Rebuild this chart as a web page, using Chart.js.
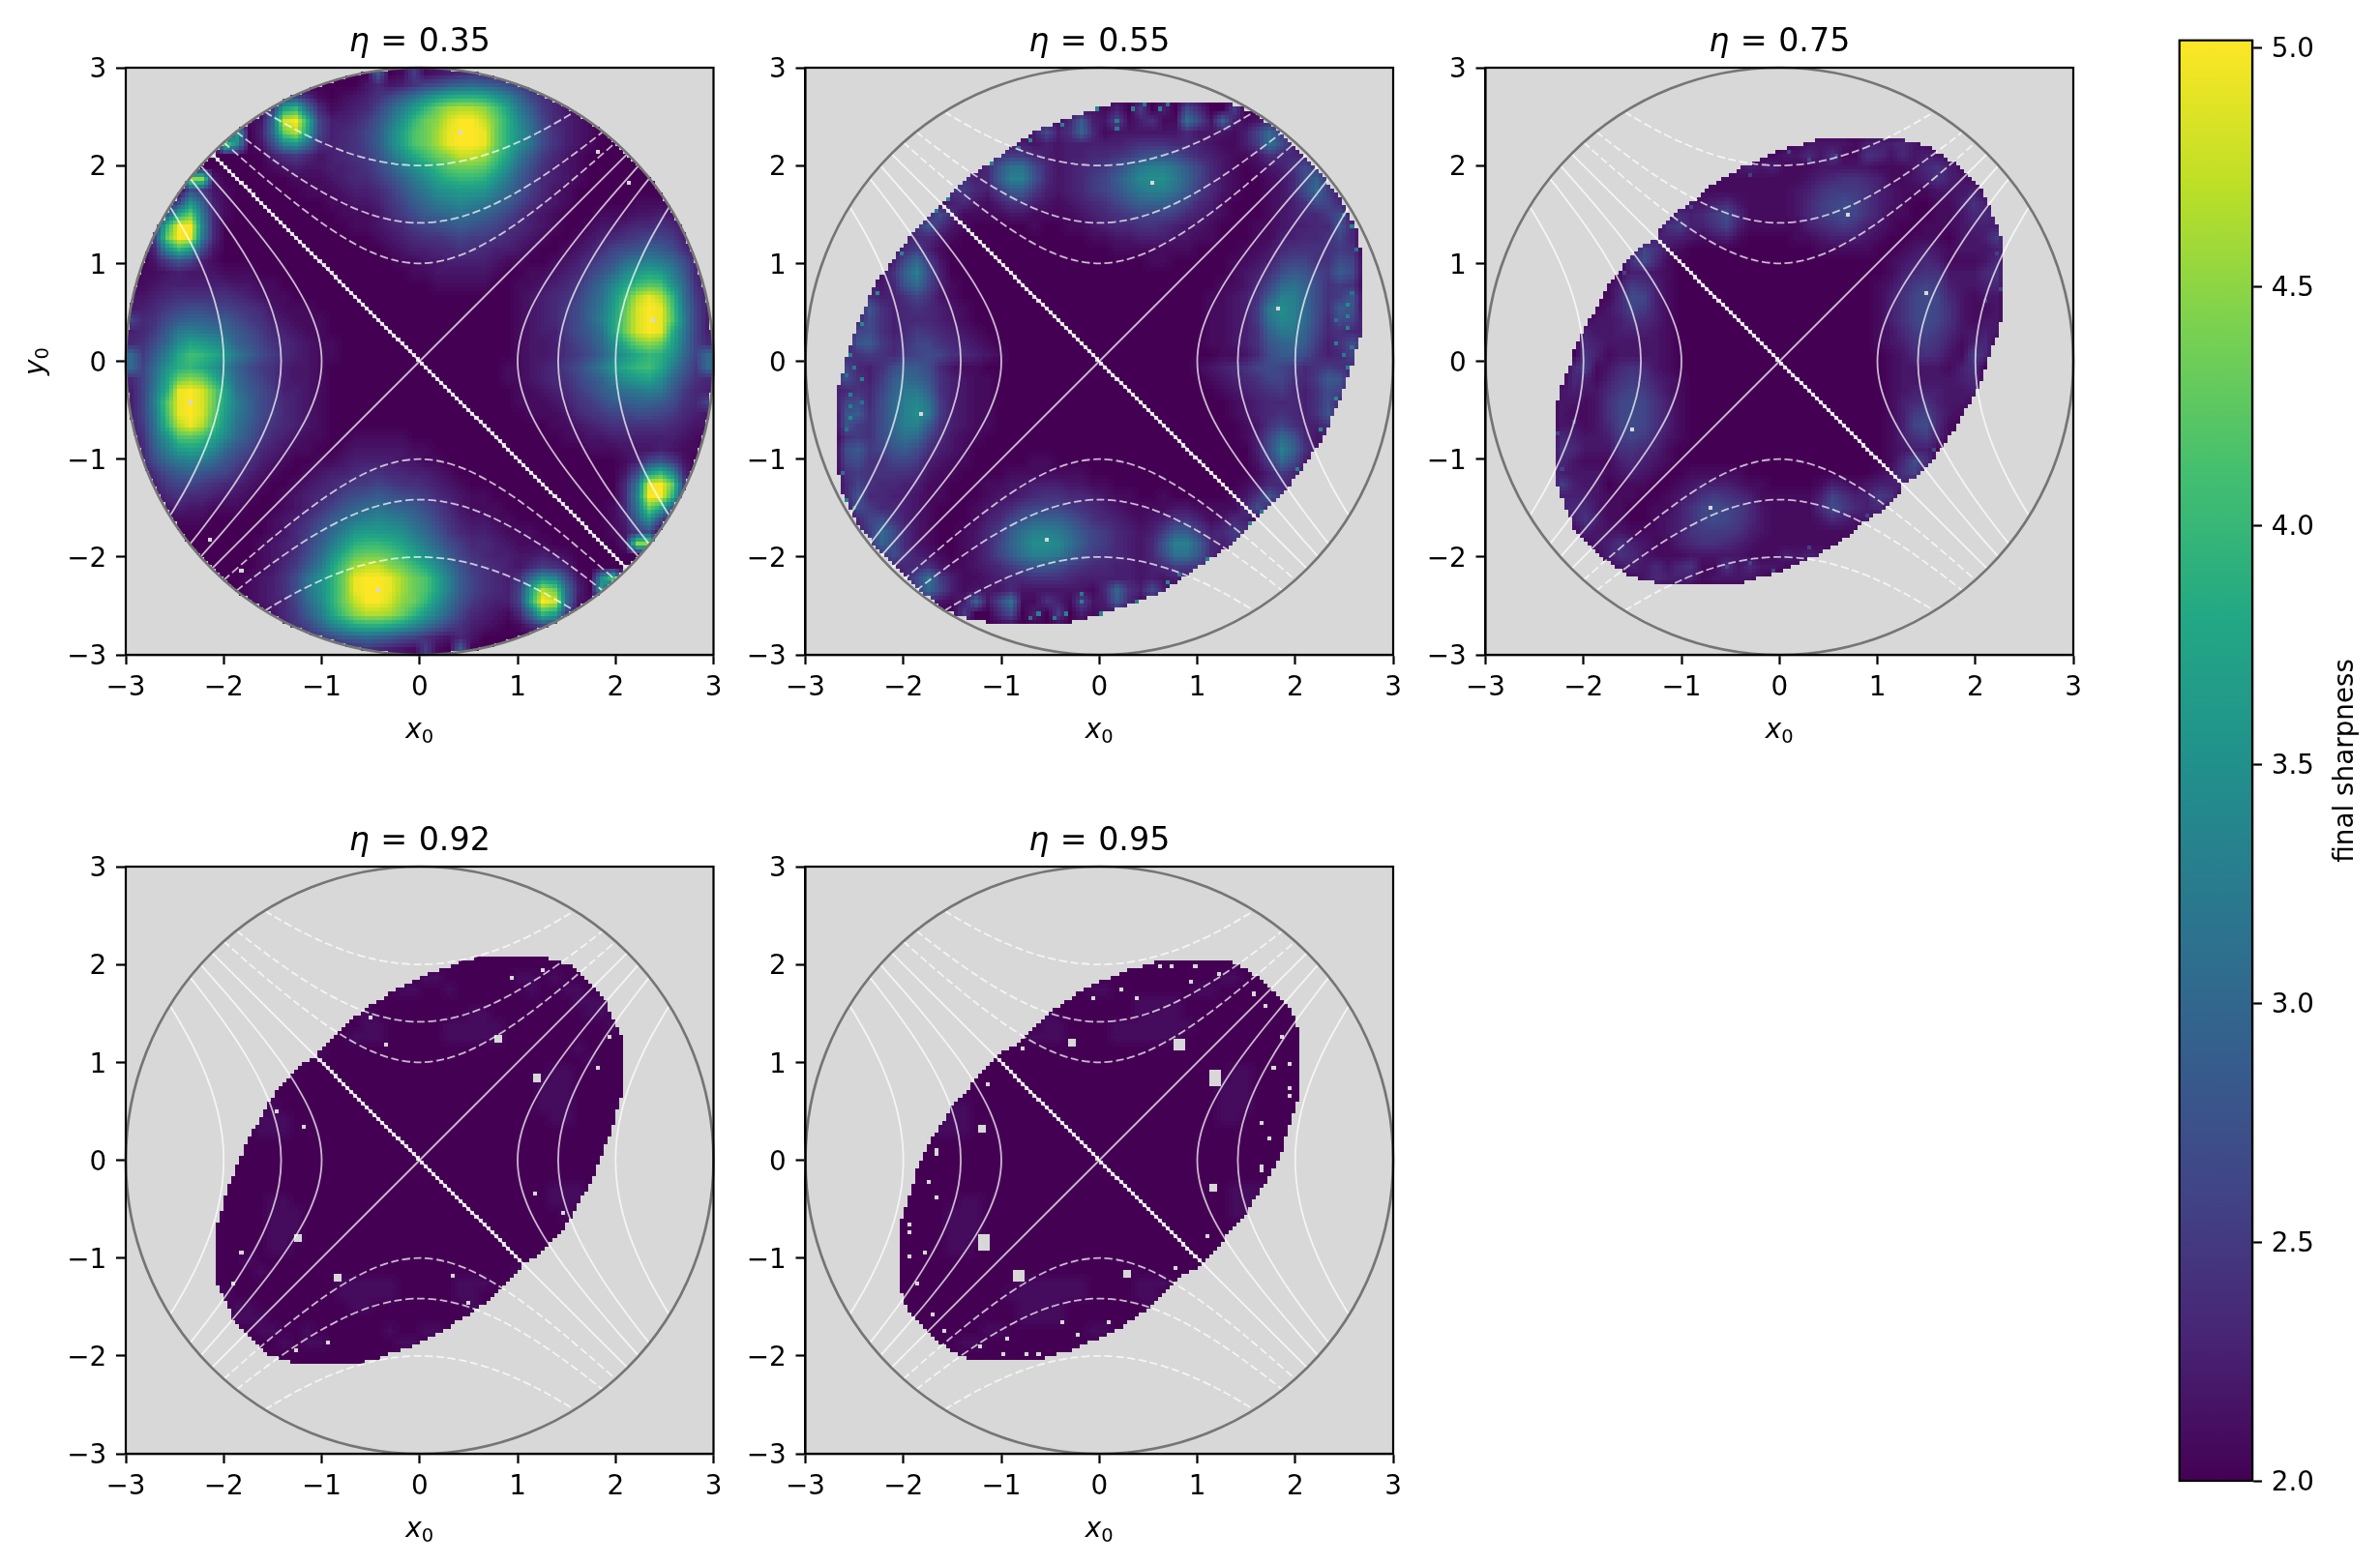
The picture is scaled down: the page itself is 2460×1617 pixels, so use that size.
<!DOCTYPE html>
<html>
<head>
<meta charset="utf-8">
<style>
  html, body { margin: 0; padding: 0; background: #ffffff; }
  body { position: relative; width: 2460px; height: 1617px; overflow: hidden; }
  canvas { position: absolute; }
</style>
<script src="https://cdn.jsdelivr.net/npm/chart.js@4"></script>
</head>
<body>
<script>
// Final sharpness over initial conditions (x0, y0) for five step sizes.
const ETAS = ['0.35', '0.55', '0.75', '0.92', '0.95'];
const AXIS_TICKS = [-3, -2, -1, 0, 1, 2, 3];
const COLORBAR_TICKS = [2, 2.5, 3, 3.5, 4, 4.5, 5];
const COLORBAR_MIN = 2;
const COLORBAR_MAX = 5.015;

// Sharpness rows for y0 > 0, top row first, one character per 0.12-wide cell.
// 0..9a..z stands for 2.0..5.0. The maps are point-symmetric about the origin,
// so the rows for y0 < 0 are the same rows read backwards.
const ROWS_035 = [
  "0000000000 0000000000 0a01612345 4321000000 0000000000",
  "0000000000 0000000000 2423578abc ba86432100 0000000000",
  "0000000000 0036741012 357adgjlmm lifb753210 0000000000",
  "0000000000 016knc4123 47bfjnruvv tpkea64210 0000000000",
  "0000000000 12cxzm7334 69dinrtxzz wrmgc74321 0000000000",
  "000000000j 03crvk7345 7afkpruyzz yrmhd85321 0000000000",
  "00000000ph 028gic5345 7afkpruyzz yrmhd85321 0000000000",
  "0000000000 0035642345 69dhlortww upkea64210 0000000000",
  "0000000000 0012322334 57aehknqrr qmhc853210 0000000000",
  "00000tt200 0000111234 468behkmnn miea743210 0000000000",
  "0000086210 0000011123 3469cehijj ifc9642100 0000000000",
  "00008ib310 0000000112 2357acefgf eca7532100 0001111000",
  "000alre410 0000000011 12468abcdc b975321000 1112232100",
  "006nzzg400 0000000001 12346789a9 8754321001 2234454210",
  "007rzye400 0000000000 0123455676 6543210012 3456776310",
  "004gnj8200 0000000000 0012334455 4332100123 5789ba8520",
  "0026973100 0000000000 0001122333 3211001235 79cefec841",
  "0112322211 1000000000 0000112222 2100112347 9cgjkjfa41",
  "1123333332 2110000000 0000001111 1001123469 cgkoqpic52",
  "2234555554 3211000000 0000000000 000123457a diovyvnd63",
  "2346788776 5421110000 0000000000 000123468b ejqxzype73",
  "7458abbaa8 6532111000 0000000000 000123468b fkrxzyqf73",
  "346aefedca 8643211000 0000000000 000123368a dkrxzyme73",
  "458chkjhfb 9754321100 0000000000 0001223579 chmrtrkd74",
  "c6aflonlie b864321100 0000000000 0001223568 bfilnmic7c"
];
const ROWS_055 = [
  "0000000000 0000000000 0000000000 0000000000 0000000000",
  "0000000000 0000000000 0000000000 0000000000 0000000000",
  "0000000000 0000000000 0000000000 0000000000 0000000000",
  "0000000000 0000000000 0000213060 3084006000 0000000000",
  "0000000000 0000000001 214a327135 11d72b3124 1000000000",
  "0000000000 0000000013 835b412222 224222137c 6300000000",
  "0000000000 0000001232 3233333455 544321136d 8300000000",
  "0000000000 0001235664 3233445689 9864321125 4430000000",
  "0000000000 0001249dd8 4234568bef fda7421012 3585200000",
  "0000000000 003534aff9 423467adgh heb7421001 248b510000",
  "0000000000 0056436aa6 3234679cef fda6421001 248c620000",
  "0000000000 0134213553 21234579bb b974310001 2358741000",
  "0000000000 4841111221 1112345677 7643210001 2344682000",
  "0000000005 9521000001 0011234455 4322100011 2334494000",
  "0000000034 4210000000 0000112233 3221100011 3344574000",
  "0000000246 3100000000 0000001111 1110000112 4555565000",
  "000000038c 6200000000 0000000001 1000001123 6775587000",
  "00000025bf 8300000000 0000000000 0000001235 8a976a8000",
  "000003249c 7310000000 0000000000 0000011247 cdb8565000",
  "0000053357 5210000000 0000000000 000011235a ffc8569000",
  "0000295345 4321000000 0000000000 000011236e hfc85a9000",
  "0000485344 4321000000 0000000000 000011236d gfc8487200",
  "0002785346 5432100000 0000000000 000011235b eeb7454300",
  "00039a6457 7543210000 0000000000 0000112359 bca6358500",
  "0004565467 8754321000 0000000000 0000011248 aa85347400"
];
const ROWS_075 = [
  "0000000000 0000000000 0000000000 0000000000 0000000000",
  "0000000000 0000000000 0000000000 0000000000 0000000000",
  "0000000000 0000000000 0000000000 0000000000 0000000000",
  "0000000000 0000000000 0000000000 0000000000 0000000000",
  "0000000000 0000000000 0000000000 0000000000 0000000000",
  "0000000000 0000000000 0000000000 0000000000 0000000000",
  "0000000000 0000000000 0000001222 2133342100 0000000000",
  "0000000000 0000000000 0001122425 1154242321 0000000000",
  "0000000000 0000000000 1232311122 2221112453 1000000000",
  "0000000000 0000000011 1111111234 5543112353 2100000000",
  "0000000000 0000000111 1111112356 6653211122 2310000000",
  "0000000000 0000001223 4211112467 8753210011 3531000000",
  "0000000000 0000014346 8411112467 8753110011 2443100000",
  "0000000000 0000056335 7311111345 6532100111 2333410000",
  "0000000000 0001333212 3100001123 3321001110 2236000000",
  "0000000000 0027521000 0000000011 1110012321 2223400000",
  "0000000000 0058410000 0000000000 0000123431 1124000000",
  "0000000000 0133210000 0000000000 0000134552 2245000000",
  "0000000000 1365310000 0000000000 0001246763 2234000000",
  "0000000000 1487310000 0000000000 0001357874 2122000000",
  "0000000001 2476310000 0000000000 0001357875 2112000000",
  "0000000012 2354310000 0000000000 0001357875 2122000000",
  "0000000032 2333210000 0000000000 0001246764 2232000000",
  "0000000043 2222210000 0000000000 0001235653 1340000000",
  "0000000053 1222210000 0000000000 0000124542 1640000000"
];
const ROWS_092 = [
  "0000000000 0000000000 0000000000 0000000000 0000000000",
  "0000000000 0000000000 0000000000 0000000000 0000000000",
  "0000000000 0000000000 0000000000 0000000000 0000000000",
  "0000000000 0000000000 0000000000 0000000000 0000000000",
  "0000000000 0000000000 0000000000 0000000000 0000000000",
  "0000000000 0000000000 0000000000 0000000000 0000000000",
  "0000000000 0000000000 0000000000 0000000000 0000000000",
  "0000000000 0000000000 0000000000 0000000000 0000000000",
  "0000000000 0000000000 0000000000 0000000000 0000000000",
  "0000000000 0000000000 0000011000 0001101000 0000000000",
  "0000000000 0000000000 0001100100 0000100110 0000000000",
  "0000000000 0000000000 0000000000 0000000011 1000000000",
  "0000000000 0000000000 1000000001 1000000001 1000000000",
  "0000000000 0000000000 1100000111 1100000000 0100000000",
  "0000000000 0000000001 1100000111 1100000000 0000000000",
  "0000000000 0000001000 0000000000 0000000010 0000000000",
  "0000000000 0000100000 0000000000 0000000001 0000100000",
  "0000000000 0010000000 0000000000 0000001100 0000100000",
  "0000000000 0000000000 0000000000 0000011100 0000000000",
  "0000000000 0000000000 0000000000 0000011100 0001000000",
  "0000000000 0010000000 0000000000 0000011100 0010000000",
  "0000000000 0111000000 0000000000 0000001100 0000000000",
  "0000000000 0111000000 0000000000 0000000000 0000100000",
  "0000000000 0000000000 0000000000 0000000000 0010000000",
  "0000000000 0000000000 0000000000 0000000000 0010000000"
];
const ROWS_095 = [
  "0000000000 0000000000 0000000000 0000000000 0000000000",
  "0000000000 0000000000 0000000000 0000000000 0000000000",
  "0000000000 0000000000 0000000000 0000000000 0000000000",
  "0000000000 0000000000 0000000000 0000000000 0000000000",
  "0000000000 0000000000 0000000000 0000000000 0000000000",
  "0000000000 0000000000 0000000000 0000000000 0000000000",
  "0000000000 0000000000 0000000000 0000000000 0000000000",
  "0000000000 0000000000 0000000000 0000000000 0000000000",
  "0000000000 0000000000 0000000000 0000000000 0000000000",
  "0000000000 0000000000 0000000000 0000011000 0000000000",
  "0000000000 0000000000 0000110000 0001100000 0000000000",
  "0000000000 0000000000 0000000011 1100000000 0000000000",
  "0000000000 0000000000 1000000011 1100000000 0000000000",
  "0000000000 0000000000 1100001111 1110000000 0000000000",
  "0000000000 0000000001 1100001111 1100000000 0000000000",
  "0000000000 0000000000 0000000000 0000000000 0000000000",
  "0000000000 0000100000 0000000000 0000000000 0000000000",
  "0000000000 0010000000 0000000000 0000001100 0000000000",
  "0000000000 0000000000 0000000000 0000011100 0000000000",
  "0000000000 0010000000 0000000000 0000011100 0000000000",
  "0000000000 0111000000 0000000000 0000011100 0000000000",
  "0000000000 0111000000 0000000000 0000011000 0000000000",
  "0000000000 0111000000 0000000000 0000000000 0000000000",
  "0000000000 0000000000 0000000000 0000000000 0000000000",
  "0000000000 0000000000 0000000000 0000000000 0000000000"
];

// Upper edge of the region that converged, left to right, in (x0, y0).
// The lower edge is the same outline turned by 180 degrees.
const EDGE_055 = [[-2.59,0],[-2.49,.31],[-2.29,.79],[-2.12,1.02],[-1.9,1.32],[-1.64,1.56],[-1.34,1.88],[-1.1,2.04],[-.79,2.27],[-.55,2.4],[-.31,2.49],[-.03,2.59],[.29,2.66],[1.16,2.66],[1.36,2.62],[1.6,2.54],[1.95,2.24],[2.19,2.01],[2.51,1.6],[2.63,1.33],[2.66,1.15],[2.66,.26],[2.63,.16],[2.59,0]];
const EDGE_075 = [[-2.13,0],[-2.1,.1],[-2.03,.28],[-1.89,.51],[-1.77,.74],[-1.65,.9],[-1.47,1.12],[-1.27,1.27],[-1.13,1.47],[-.89,1.63],[-.73,1.76],[-.54,1.89],[-.38,1.98],[-.1,2.11],[.1,2.19],[.28,2.23],[.44,2.28],[1.21,2.28],[1.51,2.2],[1.69,2.09],[1.93,1.91],[2.1,1.7],[2.2,1.45],[2.28,1.22],[2.28,.46],[2.23,.28],[2.13,0]];
const EDGE_092 = [[-1.84,0],[-1.73,.26],[-1.63,.42],[-1.49,.67],[-1.29,.88],[-1.04,1.11],[-.76,1.39],[-.52,1.57],[-.28,1.72],[.08,1.9],[.47,2.04],[.65,2.08],[1.27,2.08],[1.52,2],[1.68,1.87],[1.9,1.64],[1.99,1.41],[2.08,1.25],[2.08,.72],[1.98,.36],[1.84,0]];
const EDGE_095 = [[-1.83,0],[-1.78,.09],[-1.64,.32],[-1.5,.55],[-1.3,.78],[-1.06,1.05],[-.79,1.22],[-.71,1.33],[-.43,1.57],[-.19,1.73],[.29,1.94],[.62,2.04],[1.3,2.04],[1.52,1.94],[1.75,1.76],[1.97,1.52],[2.03,1.31],[2.03,.62],[1.97,.45],[1.83,0]];

// Cells with no value, as [x0, y0] or [x0, y0, cellsWide, cellsTall]; each also has its 180-degree twin.
const HOLES_035 = [[.43,2.35],[1.8,2.13],[2.14,1.8],[2.36,.43]];
const HOLES_055 = [[.55,1.83],[1.83,.55]];
const HOLES_075 = [[.68,1.5],[1.49,.68]];
const HOLES_092 = [[-.51,1.47],[-.33,1.2],[.8,1.23,2,2],[1.22,.8,2,2],[.94,1.84],[1.25,1.93],[1.92,1.25],[1.83,.95],[-1.45,.52],[-1.19,.35]];
const HOLES_095 = [[-.28,1.19,2,2],[.82,1.2,3,3],[1.19,.84,3,4],[-1.18,.29,2,2],[-1.12,.78],[-1.67,.09],[-.77,1.12],[-.08,1.67],[.21,1.76],[.38,1.67],[.63,1.97],[.72,1.97],[.98,1.97],[.93,1.8],[1.24,1.89],[1.58,1.72],[1.7,1.59],[1.87,1.25],[1.96,.99],[1.79,.95],[1.96,.73],[1.96,.65],[1.66,.39],[1.75,.22],[1.66,-.07]];

// Single bright cells along the rim, as [x0, y0, sharpness]; each also has its 180-degree twin.
const RIM_035 = [];
const RIM_055 = [[-.01,2.57,3.4],[.17,2.47,3.3],[.17,2.39,3.2],[.33,2.57,3.3],[.46,2.6,3.2],[.6,2.59,3.3],[.7,2.6,3.1],[-.39,2.44,3.3],[-.69,2.26,3.4],[-.83,2.17,3.1],[-1.1,2.01,3.3],[-1.54,1.66,3.3],[-1.66,1.53,3.2],[-2.02,1.1,3.3],[-2.27,.68,3.4],[-2.43,.39,3.4],[-2.55,.05,3.3],[2.51,1.5,3.4],[2.57,1.4,3.3],[2.63,1.15,3.1],[2.59,.68,3.1],[2.55,.59,3.4],[2.53,.46,3.3],[2.41,.43,3.1],[2.55,.35,3.3],[2.43,.18,3.3],[2.59,.13,3.1],[2.49,.05,3.2]];
const RIM_075 = [[.56,2.09,2.65],[.3,2.06,2.6],[.08,2.14,2.6],[-.3,1.89,2.55],[-.89,1.58,2.6],[-1.57,.89,2.6],[2.2,1.1,2.6],[2.25,.75,2.6],[2.1,.6,2.6]];
const RIM_092 = [];
const RIM_095 = [];

// Contour vertices, one quarter of each hyperbola branch, as [distance from axis, position along it].
const CONTOUR_1 = [[1,0],[1.031,.25],[1.118,.5],[1.25,.75],[1.414,1],[1.601,1.25],[1.803,1.5],[2.016,1.75],[2.236,2]];
const CONTOUR_2 = [[1.414,0],[1.436,.25],[1.5,.5],[1.601,.75],[1.732,1],[1.887,1.25],[2.062,1.5],[2.25,1.75],[2.345,1.87]];
const CONTOUR_4 = [[2,0],[2.016,.25],[2.062,.5],[2.136,.75],[2.236,1],[2.358,1.25],[2.5,1.5],[2.55,1.58]];
const DIAGONAL_END = 2.12;

const VIRIDIS = ['#440154','#482475','#414487','#355f8d','#2a788e','#21918c','#22a884','#44bf70','#7ad151','#bddf26','#fde725'];

const FONT = "'DejaVu Sans'";
const TICK_PX = 27.8, TITLE_PX = 33.3, SUB_PX = 19.5, SPINE = 2.2;
const PANEL_W = 607.5, PANEL_H = 607;
const PANEL_SLOTS = [
  { left: 130, top: 70, gutter: 130 },
  { left: 832.5, top: 70, gutter: 90.5 },
  { left: 1535.5, top: 70, gutter: 90.5 },
  { left: 130, top: 896, gutter: 130 },
  { left: 832.5, top: 896, gutter: 90.5 }
];
const ROW_SETS = [ROWS_035, ROWS_055, ROWS_075, ROWS_092, ROWS_095];
const EDGE_SETS = [null, EDGE_055, EDGE_075, EDGE_092, EDGE_095];
const HOLE_SETS = [HOLES_035, HOLES_055, HOLES_075, HOLES_092, HOLES_095];
const RIM_SETS = [RIM_035, RIM_055, RIM_075, RIM_092, RIM_095];

const COARSE = 50, FINE = 150, COARSE_STEP = 0.12, FINE_STEP = 0.04;
const LEVELS = '0123456789abcdefghijklmnopqrstuvwxyz';

function hexRgb(h) { return [1, 3, 5].map(i => parseInt(h.slice(i, i + 2), 16)); }
const LUT = [];
for (let i = 0; i < 256; i++) {
  const t = i / 255 * (VIRIDIS.length - 1), k = Math.min(Math.floor(t), VIRIDIS.length - 2), f = t - k;
  const a = hexRgb(VIRIDIS[k]), b = hexRgb(VIRIDIS[k + 1]);
  LUT.push([0, 1, 2].map(c => Math.round(a[c] + (b[c] - a[c]) * f)));
}

// Expands half-map rows into {x, y, v} records.
function cellsFrom(rows) {
  const cleaned = rows.map(r => r.replace(/ /g, ''));
  const cells = [];
  for (let j = 0; j < COARSE; j++) {
    const row = j < 25 ? cleaned[j] : cleaned[COARSE - 1 - j].split('').reverse().join('');
    for (let i = 0; i < COARSE; i++) {
      cells.push({
        x: -2.94 + COARSE_STEP * i,
        y: 2.94 - COARSE_STEP * j,
        v: 2 + 3 * LEVELS.indexOf(row[i]) / 35
      });
    }
  }
  return cells;
}

function insidePolygon(px, py, poly) {
  let hit = false;
  for (let a = 0, b = poly.length - 1; a < poly.length; b = a++) {
    const [xa, ya] = poly[a], [xb, yb] = poly[b];
    if ((ya > py) !== (yb > py) && px < (xb - xa) * (py - ya) / (yb - ya) + xa) hit = !hit;
  }
  return hit;
}

function cellIndex(x, y) {
  return [Math.round((x + 2.98) / FINE_STEP), Math.round((2.98 - y) / FINE_STEP)];
}

// Paints the sharpness cells into a 150x150 raster, smoothed like an image display,
// with empty cells left transparent so that the grey axes background shows through.
function rasterize(cells, edge, holes, rim) {
  const small = document.createElement('canvas');
  small.width = small.height = COARSE;
  const sctx = small.getContext('2d');
  const simg = sctx.createImageData(COARSE, COARSE);
  cells.forEach((c, n) => {
    const g = Math.round((c.v - 2) / 3 * 255);
    simg.data.set([g, g, g, 255], n * 4);
  });
  sctx.putImageData(simg, 0, 0);

  const fine = document.createElement('canvas');
  fine.width = fine.height = FINE;
  const fctx = fine.getContext('2d', { willReadFrequently: true });
  fctx.imageSmoothingEnabled = true;
  fctx.imageSmoothingQuality = 'medium';
  fctx.drawImage(small, 0, 0, FINE, FINE);
  const img = fctx.getImageData(0, 0, FINE, FINE);

  rim.forEach(([x, y, v]) => {
    [[x, y], [-x, -y]].forEach(([rx, ry]) => {
      const [ci, cj] = cellIndex(rx, ry);
      img.data[(cj * FINE + ci) * 4] = Math.round((v - 2) / 3 * 255);
    });
  });

  const outline = edge ? edge.concat(edge.map(([x, y]) => [-x, -y])) : null;
  const empty = new Set();
  holes.forEach(([x, y, w = 1, h = 1]) => {
    [[x, y], [-x, -y]].forEach(([hx, hy]) => {
      const [ci, cj] = cellIndex(hx, hy);
      for (let a = 0; a < w; a++) for (let b = 0; b < h; b++) {
        empty.add((cj + b - (h >> 1)) * FINE + ci + a - (w >> 1));
      }
    });
  });

  for (let j = 0; j < FINE; j++) {
    for (let i = 0; i < FINE; i++) {
      const x = -2.98 + FINE_STEP * i, y = 2.98 - FINE_STEP * j, p = (j * FINE + i) * 4;
      const inRegion = x * x + y * y <= 8.98 && (!outline || insidePolygon(x, y, outline));
      const onAntiDiagonal = i === j;
      if (!inRegion || onAntiDiagonal || empty.has(j * FINE + i)) { img.data[p + 3] = 0; continue; }
      const rgb = LUT[img.data[p]];
      img.data[p] = rgb[0]; img.data[p + 1] = rgb[1]; img.data[p + 2] = rgb[2]; img.data[p + 3] = 255;
    }
  }
  fctx.putImageData(img, 0, 0);
  return fine;
}

// Draws consecutive text runs, measured so that italic and upright parts sit side by side.
function drawRuns(ctx, runs, cx, baseline) {
  let total = 0;
  runs.forEach(r => {
    ctx.font = `${r.italic ? 'italic ' : ''}${r.px}px ${FONT}`;
    r.w = ctx.measureText(r.text).width + (r.gap || 0);
    total += r.w;
  });
  let x = cx - total / 2;
  ctx.textAlign = 'left';
  ctx.textBaseline = 'alphabetic';
  ctx.fillStyle = '#000';
  runs.forEach(r => {
    ctx.font = `${r.italic ? 'italic ' : ''}${r.px}px ${FONT}`;
    ctx.fillText(r.text, x, baseline + (r.drop || 0));
    x += r.w;
  });
}

function spines(chart) {
  const { ctx, chartArea: a } = chart;
  ctx.save();
  ctx.strokeStyle = '#000';
  ctx.lineWidth = SPINE;
  ctx.strokeRect(a.left, a.top, a.right - a.left, a.bottom - a.top);
  ctx.restore();
}

const panelPlugin = {
  id: 'sharpnessPanel',
  beforeDatasetsDraw(chart, args, opts) {
    const { ctx, chartArea: a, scales } = chart;
    ctx.save();
    ctx.fillStyle = '#d8d8d8';
    ctx.fillRect(a.left, a.top, a.right - a.left, a.bottom - a.top);
    ctx.imageSmoothingEnabled = false;
    const x0 = scales.x.getPixelForValue(-3), x1 = scales.x.getPixelForValue(3);
    const y0 = scales.y.getPixelForValue(3), y1 = scales.y.getPixelForValue(-3);
    ctx.drawImage(opts.raster, x0, y0, x1 - x0, y1 - y0);
    ctx.restore();
  },
  afterDatasetsDraw(chart, args, opts) {
    const { ctx, chartArea: a, scales } = chart;
    const cx = scales.x.getPixelForValue(0), cy = scales.y.getPixelForValue(0);
    ctx.save();
    ctx.strokeStyle = '#757575';
    ctx.lineWidth = 2.7;
    ctx.beginPath();
    ctx.ellipse(cx, cy, scales.x.getPixelForValue(3) - cx, scales.y.getPixelForValue(-3) - cy, 0, 0, Math.PI * 2);
    ctx.stroke();
    ctx.restore();
    spines(chart);

    ctx.save();
    drawRuns(ctx, [
      { text: 'η', italic: true, px: TITLE_PX, gap: 11.5 },
      { text: '=', px: TITLE_PX, gap: 11.5 },
      { text: opts.eta, px: TITLE_PX }
    ], cx, a.top - 17);
    drawRuns(ctx, [
      { text: 'x', italic: true, px: TICK_PX },
      { text: '0', px: SUB_PX, drop: 5 }
    ], cx, a.bottom + 86);
    if (opts.yLabel) {
      ctx.translate(a.left - 85, cy);
      ctx.rotate(-Math.PI / 2);
      drawRuns(ctx, [
        { text: 'y', italic: true, px: TICK_PX },
        { text: '0', px: SUB_PX, drop: 5 }
      ], 0, 0);
    }
    ctx.restore();
  }
};

function tickLabel(v) { return String(v).replace('-', '\u2212'); }

function axis(padding, labelOffset) {
  return {
    type: 'linear', min: -3, max: 3,
    afterBuildTicks: s => { s.ticks = AXIS_TICKS.map(value => ({ value })); },
    ticks: { color: '#000', font: { family: FONT, size: TICK_PX }, padding, labelOffset, maxRotation: 0, autoSkip: false, callback: tickLabel },
    grid: { drawOnChartArea: false, drawTicks: true, tickLength: 10, tickWidth: SPINE, tickColor: '#000' },
    border: { display: true, color: '#000', width: SPINE }
  };
}

function curve(points, dashed) {
  return {
    type: 'scatter', data: points, showLine: true, pointRadius: 0,
    borderColor: 'rgba(255,255,255,0.72)', borderWidth: 1.8, tension: 0.3,
    borderDash: dashed ? [8.2, 3.6] : [], fill: false
  };
}

// Full branch through the axis, from one quarter's vertices.
function branch(quarter, sign, swap) {
  const down = quarter.slice(1).reverse().map(([d, t]) => [d, -t]);
  return down.concat(quarter).map(([d, t]) => swap ? { x: t, y: sign * d } : { x: sign * d, y: t });
}

function contourDatasets() {
  const out = [];
  [CONTOUR_1, CONTOUR_2, CONTOUR_4].forEach(q => {
    out.push(curve(branch(q, 1, false), false), curve(branch(q, -1, false), false));
    out.push(curve(branch(q, 1, true), true), curve(branch(q, -1, true), true));
  });
  const e = DIAGONAL_END;
  out.push(curve([{ x: -e, y: -e }, { x: e, y: e }], false));
  out.push(curve([{ x: -e, y: e }, { x: e, y: -e }], false));
  return out;
}

function makePanel(n) {
  const slot = PANEL_SLOTS[n];
  const rightPad = 30, topPad = 66, bottomPad = 105;
  const cv = document.createElement('canvas');
  const leftPx = Math.round(slot.left - slot.gutter), topPx = slot.top - topPad;
  cv.style.left = leftPx + 'px';
  cv.style.top = topPx + 'px';
  const w = Math.ceil(slot.gutter + PANEL_W + rightPad), h = topPad + PANEL_H + bottomPad;
  cv.width = w; cv.height = h;
  cv.style.width = w + 'px'; cv.style.height = h + 'px';
  document.body.appendChild(cv);

  const cells = cellsFrom(ROW_SETS[n]);
  const raster = rasterize(cells, EDGE_SETS[n], HOLE_SETS[n], RIM_SETS[n]);
  const xAxis = axis(7.7, 0); const yAxis = axis(9.7, 3);
  xAxis.afterFit = s => { s.height = bottomPad; };
  yAxis.afterFit = s => { s.width = slot.gutter; };

  new Chart(cv, {
    type: 'scatter',
    data: {
      datasets: [{ label: 'final sharpness', data: cells, pointRadius: 0, pointHoverRadius: 0 }].concat(contourDatasets())
    },
    options: {
      responsive: false, animation: false, events: [],
      layout: { padding: { left: 0, top: topPad, right: w - slot.gutter - PANEL_W, bottom: 0 } },
      scales: { x: xAxis, y: yAxis },
      plugins: {
        legend: { display: false }, tooltip: { enabled: false }, title: { display: false },
        sharpnessPanel: { raster, eta: ETAS[n], yLabel: n === 0 }
      }
    },
    plugins: [panelPlugin]
  });
}

function makeColorbar() {
  const cv = document.createElement('canvas');
  const left = 2200, plotLeft = 2252.7, plotRight = 2328, plotTop = 41.7, plotBottom = 1531;
  cv.width = 260; cv.height = 1617;
  cv.style.left = left + 'px'; cv.style.top = '0px';
  cv.style.width = '260px'; cv.style.height = '1617px';
  document.body.appendChild(cv);

  new Chart(cv, {
    type: 'bar',
    data: {
      labels: ['final sharpness'],
      datasets: [{
        data: [[COLORBAR_MIN, COLORBAR_MAX]],
        categoryPercentage: 1, barPercentage: 1, borderWidth: 0,
        backgroundColor(c) {
          const a = c.chart.chartArea;
          if (!a) return VIRIDIS[0];
          const g = c.chart.ctx.createLinearGradient(0, a.bottom, 0, a.top);
          VIRIDIS.forEach((col, i) => g.addColorStop(i / (VIRIDIS.length - 1), col));
          return g;
        }
      }]
    },
    options: {
      responsive: false, animation: false, events: [],
      layout: { padding: { left: plotLeft - left, top: plotTop, right: 0, bottom: 1617 - plotBottom } },
      scales: {
        x: { display: false },
        y: {
          type: 'linear', position: 'right', min: COLORBAR_MIN, max: COLORBAR_MAX,
          afterFit: s => { s.width = 2460 - plotRight; },
          afterBuildTicks: s => { s.ticks = COLORBAR_TICKS.map(value => ({ value })); },
          ticks: { color: '#000', font: { family: FONT, size: TICK_PX }, padding: 9.7, labelOffset: 3, callback: v => v.toFixed(1) },
          grid: { drawOnChartArea: false, drawTicks: true, tickLength: 10, tickWidth: SPINE, tickColor: '#000' },
          border: { display: true, color: '#000', width: SPINE }
        }
      },
      plugins: { legend: { display: false }, tooltip: { enabled: false } }
    },
    plugins: [{
      id: 'colorbarFrame',
      afterDatasetsDraw(chart) {
        spines(chart);
        const { ctx } = chart;
        ctx.save();
        ctx.translate(2424 - left + 8, (plotTop + plotBottom) / 2);
        ctx.rotate(-Math.PI / 2);
        ctx.font = `${TICK_PX}px ${FONT}`;
        ctx.textAlign = 'center';
        ctx.textBaseline = 'alphabetic';
        ctx.fillStyle = '#000';
        ctx.fillText('final sharpness', 0, 0);
        ctx.restore();
      }
    }]
  });
}

ETAS.forEach((_, n) => makePanel(n));
makeColorbar();
</script>
</body>
</html>
